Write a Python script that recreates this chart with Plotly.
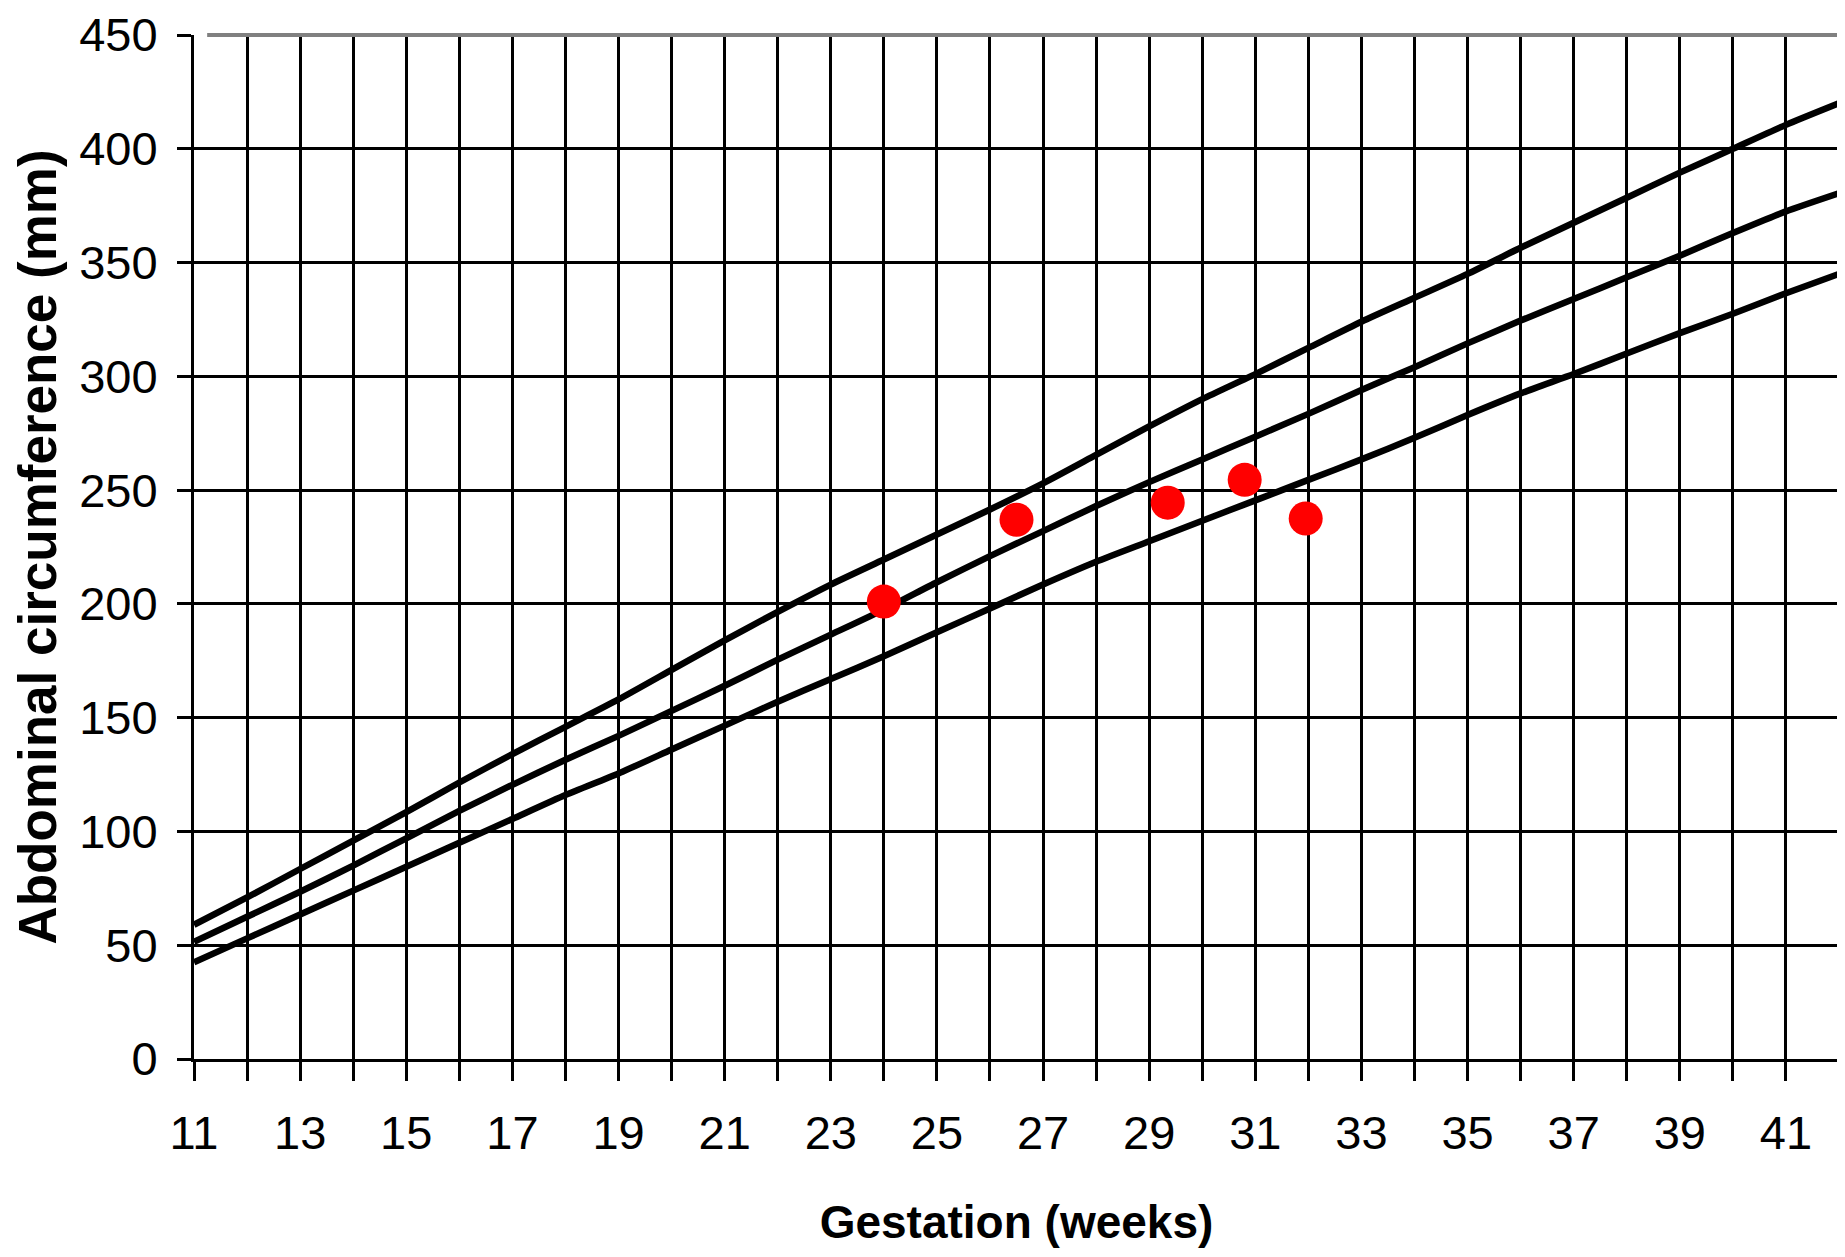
import plotly.graph_objects as go

# Gestational age (weeks) for the centile curves
weeks = list(range(11, 43))

# Upper centile curve (mm)
upper = [59, 71, 83.5, 96, 108.5, 121.5, 134, 146, 158, 171, 184, 196.5, 208.5, 219.5,
         230.5, 241.5, 253, 265.5, 278, 290, 301, 312.5, 324, 334.5, 345, 356.5,
         367.5, 378.5, 389.5, 400, 410.5, 420]

# Middle centile curve (mm)
middle = [51.5, 62.5, 73.5, 85, 97, 109, 120.5, 131.5, 142, 153, 164, 175.5, 186.5,
          197.5, 209.5, 221, 232, 243, 253.5, 263.5, 273.5, 283.5, 294, 304, 314.5,
          324.5, 334, 343.5, 353, 363, 372.5, 380.5]

# Lower centile curve (mm)
lower = [42.5, 53, 63.5, 74, 84.5, 95, 105.5, 116, 125.5, 136, 146.5, 157, 167,
         177, 187.5, 198, 208.5, 218.5, 227.5, 236.5, 245.5, 254.5, 263.5, 273, 283,
         292.5, 301, 310, 319, 327.5, 336.5, 345]

# Patient measurements
patient_weeks = [24.0, 26.5, 29.35, 30.8, 31.95]
patient_ac = [201, 237, 244.5, 254.5, 237.5]

x_title = "Gestation (weeks)"
y_title = "Abdominal circumference (mm)"

tick_font = dict(family="Liberation Sans, Arial", size=47, color="black")
title_font_y = dict(family="Liberation Sans, Arial", size=53, color="black")
title_font_x = dict(family="Liberation Sans, Arial", size=46, color="black")

fig = go.Figure()
for series in (upper, middle, lower):
    fig.add_trace(go.Scatter(x=weeks, y=series, mode="lines",
                             line=dict(color="black", width=6.5, shape="spline", smoothing=0.6),
                             hoverinfo="skip", showlegend=False))

fig.add_trace(go.Scatter(x=patient_weeks, y=patient_ac, mode="markers",
                         marker=dict(color="#ff0000", size=34, line=dict(width=0)),
                         showlegend=False))

fig.update_layout(
    width=1837, height=1249,
    margin=dict(l=186, r=6, t=27, b=198),
    paper_bgcolor="white", plot_bgcolor="white",
    showlegend=False,
    xaxis=dict(
        range=[11, 42], tick0=11, dtick=2,
        showgrid=True, gridcolor="black", gridwidth=3,
        showline=True, linecolor="black", linewidth=3,
        ticks="outside", ticklen=19, tickwidth=3, tickcolor="black",
        tickfont=tick_font, ticklabelstandoff=12,
        minor=dict(dtick=1, tick0=11, showgrid=True, gridcolor="black", gridwidth=3,
                   ticks="outside", ticklen=19, tickwidth=3, tickcolor="black"),
        zeroline=False,
        title=dict(text="<b>" + x_title + "</b>", font=title_font_x, standoff=48),
        automargin=False,
    ),
    yaxis=dict(
        range=[0, 450], tick0=0, dtick=50,
        showgrid=True, gridcolor="black", gridwidth=3,
        showline=True, linecolor="black", linewidth=3,
        ticks="outside", ticklen=14, tickwidth=3, tickcolor="black",
        tickfont=tick_font, ticklabelstandoff=10,
        zeroline=False,
        title=dict(text="<b>" + y_title + "</b>", font=title_font_y, standoff=18),
        automargin=False,
    ),
    shapes=[
        dict(type="line", xref="paper", yref="paper", x0=0.008, x1=1, y0=1, y1=1,
             line=dict(color="#808080", width=4), layer="above"),
        dict(type="line", xref="paper", yref="paper", x0=1, x1=1, y0=0.02, y1=1,
             line=dict(color="#808080", width=4), layer="above"),
    ],
)

fig.write_html("out.html")
